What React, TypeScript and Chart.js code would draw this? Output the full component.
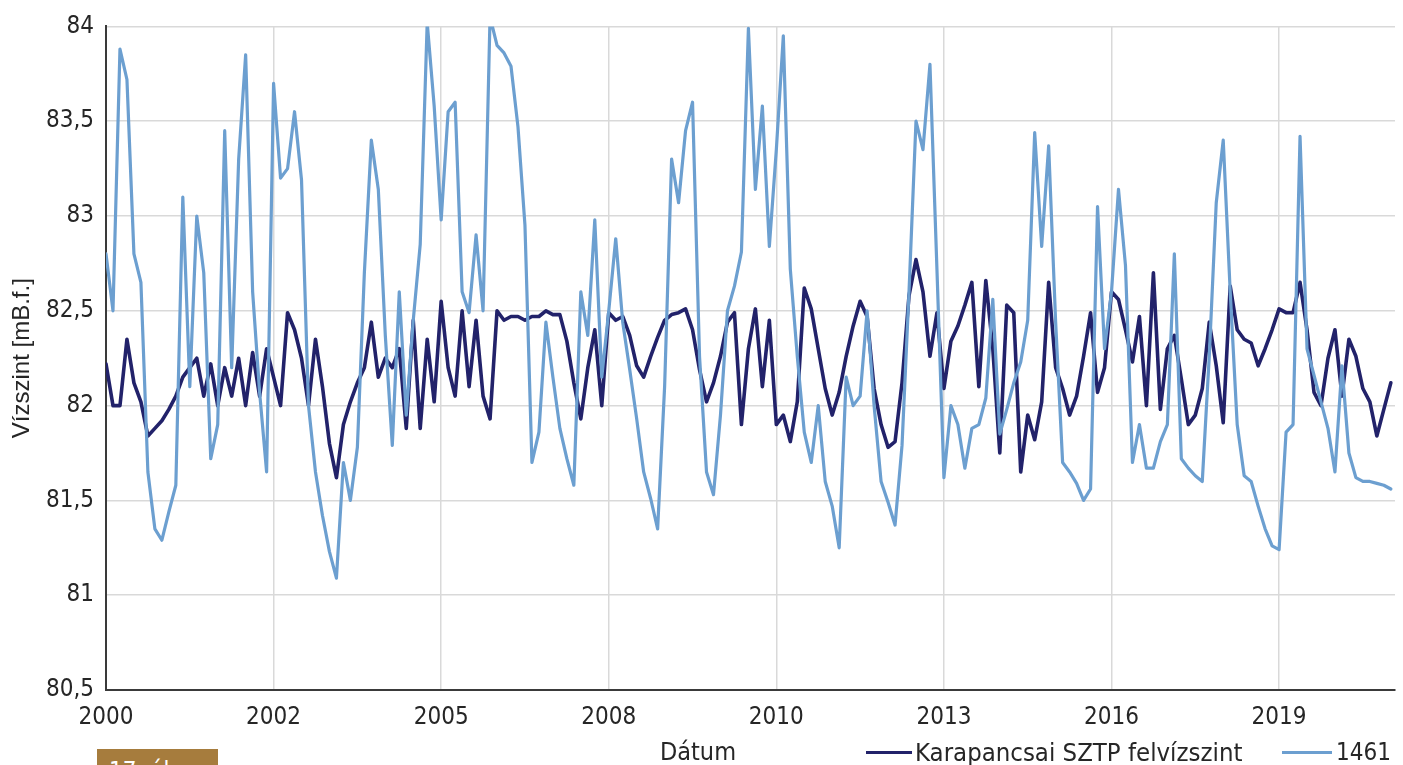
import React, { useEffect, useRef } from "react";
import { Chart, registerables } from "chart.js";

Chart.register(...registerables);

// ---- data (one value per ~1/24 of a tick interval) ----
const light1461: number[] = [
  // 2000 - 2002
  82.8, 82.5, 83.88, 83.72, 82.8, 82.65, 81.65, 81.35, 81.29, 81.44, 81.58, 83.1, 82.1, 83.0, 82.7, 81.72, 81.9, 83.45, 82.2, 83.3, 83.85, 82.6, 82.07, 81.65,
  // 2002 - 2005
  83.7, 83.2, 83.25, 83.55, 83.19, 82.0, 81.65, 81.42, 81.23, 81.09, 81.7, 81.5, 81.78, 82.7, 83.4, 83.14, 82.37, 81.79, 82.6, 81.95, 82.45, 82.85, 84.02, 83.58,
  // 2005 - 2008
  82.98, 83.55, 83.6, 82.6, 82.49, 82.9, 82.5, 84.05, 83.9, 83.86, 83.79, 83.47, 82.95, 81.7, 81.86, 82.44, 82.15, 81.88, 81.72, 81.58, 82.6, 82.37, 82.98, 82.15,
  // 2008 - 2010
  82.5, 82.88, 82.44, 82.19, 81.93, 81.65, 81.51, 81.35, 82.1, 83.3, 83.07, 83.45, 83.6, 82.26, 81.65, 81.53, 81.95, 82.5, 82.63, 82.81, 83.99, 83.14, 83.58, 82.84,
  // 2010 - 2013
  83.35, 83.95, 82.72, 82.26, 81.86, 81.7, 82.0, 81.6, 81.47, 81.25, 82.15, 82.0, 82.05, 82.5, 82.0, 81.6, 81.49, 81.37, 81.79, 82.6, 83.5, 83.35, 83.8, 82.72,
  // 2013 - 2016
  81.62, 82.0, 81.9, 81.67, 81.88, 81.9, 82.04, 82.56, 81.85, 81.98, 82.12, 82.23, 82.45, 83.44, 82.84, 83.37, 82.44, 81.7, 81.65, 81.59, 81.5, 81.56, 83.05, 82.3,
  // 2016 - 2019
  82.6, 83.14, 82.74, 81.7, 81.9, 81.67, 81.67, 81.81, 81.9, 82.8, 81.72, 81.67, 81.63, 81.6, 82.26, 83.07, 83.4, 82.6, 81.9, 81.63, 81.6, 81.47, 81.35, 81.26,
  // 2019 - end
  81.24, 81.86, 81.9, 83.42, 82.3, 82.16, 82.02, 81.88, 81.65, 82.21, 81.75, 81.62, 81.6, 81.6, 81.59, 81.58, 81.56,
];

const karapancsai: number[] = [
  // 2000 - 2002
  82.22, 82.0, 82.0, 82.35, 82.12, 82.02, 81.84, 81.88, 81.92, 81.98, 82.05, 82.15, 82.2, 82.25, 82.05, 82.22, 82.0, 82.2, 82.05, 82.25, 82.0, 82.28, 82.05, 82.3,
  // 2002 - 2005
  82.15, 82.0, 82.49, 82.4, 82.25, 82.0, 82.35, 82.1, 81.8, 81.62, 81.9, 82.02, 82.12, 82.2, 82.44, 82.15, 82.25, 82.2, 82.3, 81.88, 82.45, 81.88, 82.35, 82.02,
  // 2005 - 2008
  82.55, 82.2, 82.05, 82.5, 82.1, 82.45, 82.05, 81.93, 82.5, 82.45, 82.47, 82.47, 82.45, 82.47, 82.47, 82.5, 82.48, 82.48, 82.34, 82.12, 81.93, 82.2, 82.4, 82.0,
  // 2008 - 2010
  82.49, 82.45, 82.47, 82.37, 82.21, 82.15, 82.26, 82.36, 82.45, 82.48, 82.49, 82.51, 82.4, 82.19, 82.02, 82.12, 82.26, 82.44, 82.49, 81.9, 82.3, 82.51, 82.1, 82.45,
  // 2010 - 2013
  81.9, 81.95, 81.81, 82.02, 82.62, 82.51, 82.3, 82.09, 81.95, 82.07, 82.26, 82.42, 82.55, 82.47, 82.09, 81.9, 81.78, 81.81, 82.12, 82.58, 82.77, 82.6, 82.26, 82.49,
  // 2013 - 2016
  82.09, 82.34, 82.42, 82.53, 82.65, 82.1, 82.66, 82.3, 81.75, 82.53, 82.49, 81.65, 81.95, 81.82, 82.02, 82.65, 82.2, 82.09, 81.95, 82.05, 82.26, 82.49, 82.07, 82.2,
  // 2016 - 2019
  82.6, 82.56, 82.4, 82.23, 82.47, 82.0, 82.7, 81.98, 82.3, 82.37, 82.14, 81.9, 81.95, 82.09, 82.44, 82.21, 81.91, 82.63, 82.4, 82.35, 82.33, 82.21, 82.3, 82.4,
  // 2019 - end
  82.51, 82.49, 82.49, 82.65, 82.4, 82.07, 82.0, 82.25, 82.4, 82.05, 82.35, 82.26, 82.09, 82.02, 81.84, 81.98, 82.12,
];

const xTickPositions: number[] = [0, 24, 48, 72, 96, 120, 144, 168];
const xTickLabels: string[] = ["2000", "2002", "2005", "2008", "2010", "2013", "2016", "2019"];
const yTickValues: number[] = [80.5, 81, 81.5, 82, 82.5, 83, 83.5, 84];

const DARK = "#22226a";
const LIGHT = "#6c9fd0";
const TEXT = "#262626";
const FONT = "'DejaVu Sans Condensed', 'DejaVu Sans', sans-serif";

export default function App() {
  const ref = useRef<HTMLCanvasElement | null>(null);

  useEffect(() => {
    if (!ref.current) return;
    const xIndex = light1461.map((_, i) => i);
    const chart = new Chart(ref.current, {
      type: "line",
      data: {
        labels: xIndex,
        datasets: [
          {
            label: "1461",
            data: light1461,
            borderColor: LIGHT,
            backgroundColor: LIGHT,
            borderWidth: 3.2,
            pointRadius: 0,
            tension: 0,
            borderJoinStyle: "round",
            borderCapStyle: "round",
          },
          {
            label: "Karapancsai SZTP felvízszint",
            data: karapancsai,
            borderColor: DARK,
            backgroundColor: DARK,
            borderWidth: 3.6,
            pointRadius: 0,
            tension: 0,
            borderJoinStyle: "round",
            borderCapStyle: "round",
          },
        ],
      },
      options: {
        responsive: false,
        maintainAspectRatio: false,
        animation: false,
        devicePixelRatio: 1,
        layout: { padding: { top: 23, right: 8, bottom: 0, left: 0 } },
        plugins: { legend: { display: false }, tooltip: { enabled: false } },
        scales: {
          x: {
            type: "linear",
            min: 0,
            max: 184.6,
            afterBuildTicks: (s: any) => {
              s.ticks = xTickPositions.map((v) => ({ value: v }));
            },
            afterFit: (s: any) => {
              s.height = 75;
            },
            ticks: {
              autoSkip: false,
              maxRotation: 0,
              padding: 13,
              color: TEXT,
              font: { family: FONT, size: 24 },
              callback: (_v: any, i: number) => xTickLabels[i],
            },
            grid: { color: "#d9d9d9", lineWidth: 1.5, drawTicks: false },
            border: { color: "#3a3a3a", width: 2 },
          },
          y: {
            min: 80.5,
            max: 84,
            afterBuildTicks: (s: any) => {
              s.ticks = yTickValues.map((v) => ({ value: v }));
            },
            afterFit: (s: any) => {
              s.width = 106;
            },
            ticks: {
              padding: 12,
              color: TEXT,
              font: { family: FONT, size: 24 },
              callback: (v: any) => String(v).replace(".", ","),
            },
            grid: { color: "#d9d9d9", lineWidth: 1.5, drawTicks: false },
            border: { color: "#3a3a3a", width: 2 },
            title: {
              display: true,
              text: "Vízszint [mB.f.]",
              color: TEXT,
              font: { family: "'Liberation Sans', Arial, sans-serif", size: 24 },
              padding: { top: 8, bottom: 0 },
            },
          },
        },
      },
    });
    return () => chart.destroy();
  }, []);

  const textStyle: React.CSSProperties = {
    position: "absolute",
    fontFamily: FONT,
    fontSize: 25,
    color: TEXT,
    lineHeight: "28px",
    whiteSpace: "nowrap",
  };

  return (
    <div
      style={{
        position: "fixed",
        left: 0,
        top: 0,
        width: 1403,
        height: 765,
        overflow: "hidden",
        background: "#ffffff",
      }}
    >
      <canvas ref={ref} width={1403} height={765} style={{ display: "block", width: 1403, height: 765 }} />
      <div style={{ ...textStyle, left: 698, top: 738, transform: "translateX(-50%)" }}>Dátum</div>
      <div style={{ position: "absolute", left: 866, top: 751, width: 46, height: 3, background: DARK }} />
      <div style={{ ...textStyle, left: 915, top: 738, fontSize: 25.5 }}>Karapancsai SZTP felvízszint</div>
      <div style={{ position: "absolute", left: 1282, top: 751, width: 50, height: 3, background: LIGHT }} />
      <div style={{ ...textStyle, left: 1336, top: 738, fontSize: 24 }}>1461</div>
      <div
        style={{
          position: "absolute",
          left: 97,
          top: 749,
          width: 121,
          height: 16,
          background: "#a67c3d",
          overflow: "hidden",
        }}
      >
        <div style={{ ...textStyle, left: 12, top: 10, color: "#ffffff", lineHeight: "24px", fontSize: 24 }}>17. ábra</div>
      </div>
    </div>
  );
}
